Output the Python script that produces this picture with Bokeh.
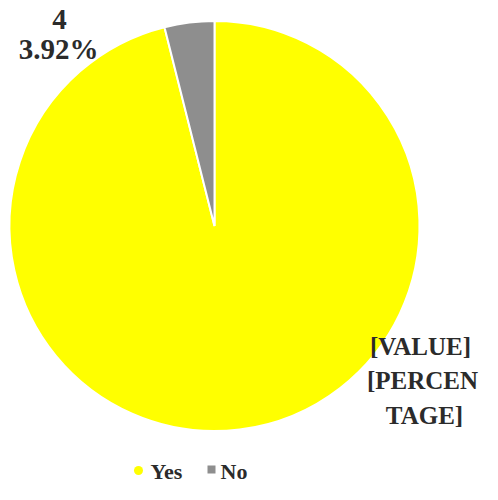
from math import pi
from bokeh.plotting import figure
from bokeh.models import Range1d, ColumnDataSource
from bokeh.core.properties import value
from bokeh.embed import file_html
from bokeh.resources import INLINE

categories = ["Yes", "No"]
counts = [98, 4]
colors = ["#FFFF00", "#8E8E8E"]
yes_label_lines = ["[VALUE]", "[PERCEN", "TAGE]"]

W, H = 482, 484
p = figure(width=W, height=H, output_backend="svg", toolbar_location=None,
           x_range=Range1d(0, W), y_range=Range1d(0, H), min_border=0)
p.axis.visible = False
p.grid.visible = False
p.outline_line_color = None
p.background_fill_color = "white"
p.border_fill_color = "white"

total = sum(counts)
fracs = [c / total for c in counts]
starts, ends = [], []
cum = 0.0
for f in fracs:
    starts.append(pi / 2 - cum * 2 * pi)
    cum += f
    ends.append(pi / 2 - cum * 2 * pi)

cx, cy, r = 214, 258.5, 205
src = ColumnDataSource(dict(cat=categories, cnt=counts, start=starts, end=ends, color=colors,
                            x=[cx] * 2, y=[cy] * 2))
p.wedge(x="x", y="y", radius=r, start_angle="start", end_angle="end", direction="clock",
        fill_color="color", line_color="white", line_width=2, source=src)

font = value("Liberation Serif")
# No label (outside end)
no_pct = counts[1] / total * 100
p.text(x=[59, 58], y=[465, 436], text=[str(counts[1]), f"{no_pct:.2f}%"],
       text_font=font, text_font_style="bold", text_font_size="29px",
       text_align="center", text_baseline="middle", text_color="#2b2b2b")
# Yes label (placeholder text)
p.text(x=[420, 422, 424], y=[138, 104, 69], text=yes_label_lines,
       text_font=font, text_font_style="bold", text_font_size="25px",
       text_align="center", text_baseline="middle", text_color="#2b2b2b")

# legend
p.scatter(x=[138], y=[14], marker="circle", size=9, fill_color=colors[0], line_color=None)
p.scatter(x=[211], y=[15], marker="square", size=8, fill_color=colors[1], line_color=None)
p.text(x=[150, 220], y=[1, 1], text=categories, text_font=font, text_font_style="bold",
       text_font_size="22px", text_align="left", text_baseline="bottom", text_color="#2b2b2b")

open("out.html", "w").write(file_html(p, INLINE))
